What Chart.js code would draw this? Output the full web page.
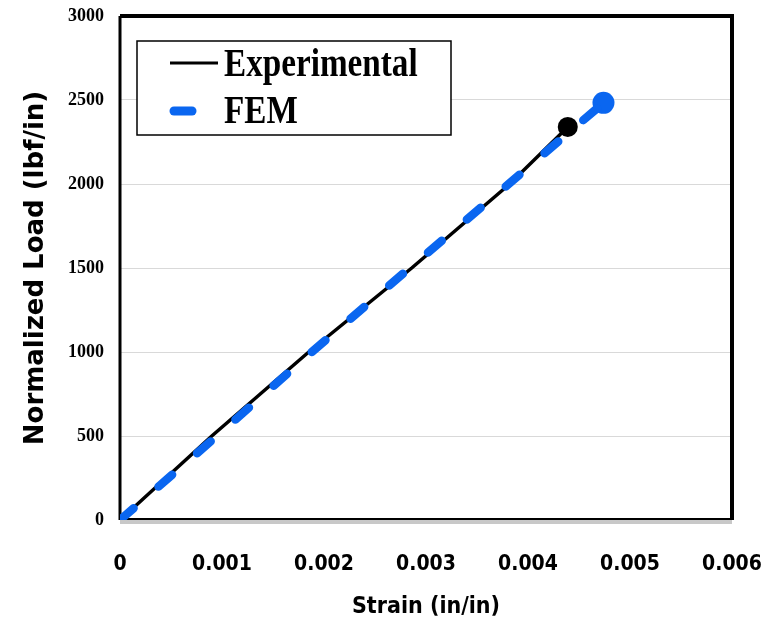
<!DOCTYPE html>
<html>
<head>
<meta charset="utf-8">
<script src="https://cdn.jsdelivr.net/npm/chart.js@4"></script>
<style>
  html, body { margin: 0; padding: 0; background: #fff; }
  #wrap { width: 776px; height: 621px; }
</style>
</head>
<body>
<div id="wrap"><canvas id="myChart" width="776" height="621"></canvas></div>
<script>
// chart data
const expStrain = [0, 0.0009, 0.00185, 0.00286, 0.00382, 0.00439];
const expLoad = [0, 500, 1000, 1500, 2000, 2340];
const femStrain = [0, 0.00095, 0.00188, 0.00284, 0.00381, 0.00474];
const femLoad = [0, 500, 1000, 1500, 2000, 2483];
const xTickLabels = ["0", "0.001", "0.002", "0.003", "0.004", "0.005", "0.006"];
const yTickLabels = ["0", "500", "1000", "1500", "2000", "2500", "3000"];
const seriesNames = ["Experimental", "FEM"];

const blue = "#0a66f0";

function toPoints(xs, ys) {
  return xs.map((x, i) => ({ x: x, y: ys[i] }));
}

// only the last point of each curve gets a marker
function endRadius(arr, r) {
  return arr.map((v, i) => (i === arr.length - 1 ? r : 0));
}

// frame around the plot area
const framePlugin = {
  id: "frame",
  beforeDatasetsDraw(chart) {
    let a = chart.chartArea;
    let ctx = chart.ctx;
    ctx.save();
    // gray shadow under bottom
    ctx.fillStyle = "#c8c8c8";
    ctx.fillRect(a.left, a.bottom, a.right - a.left, 4);
    ctx.strokeStyle = "#000";
    ctx.lineWidth = 4;
    ctx.beginPath();
    ctx.moveTo(a.left, a.top);
    ctx.lineTo(a.right, a.top);
    ctx.lineTo(a.right, a.bottom);
    ctx.stroke();
    ctx.lineWidth = 3;
    ctx.beginPath();
    ctx.moveTo(a.left, a.top);
    ctx.lineTo(a.left, a.bottom);
    ctx.stroke();
    ctx.lineWidth = 2;
    ctx.beginPath();
    ctx.moveTo(a.left, a.bottom - 1);
    ctx.lineTo(a.right, a.bottom - 1);
    ctx.stroke();
    ctx.restore();
  }
};

// boxed legend inside the plot
const legendPlugin = {
  id: "boxLegend",
  afterDraw(chart) {
    let ctx = chart.ctx;
    ctx.save();
    ctx.fillStyle = "#fff";
    ctx.fillRect(137, 41, 314, 94);
    ctx.strokeStyle = "#000";
    ctx.lineWidth = 1.5;
    ctx.strokeRect(137, 41, 314, 94);

    // sample lines
    ctx.lineCap = "butt";
    ctx.strokeStyle = "#000";
    ctx.lineWidth = 3;
    ctx.beginPath();
    ctx.moveTo(170, 63);
    ctx.lineTo(218, 63);
    ctx.stroke();
    ctx.lineCap = "round";
    ctx.strokeStyle = blue;
    ctx.lineWidth = 9;
    ctx.beginPath();
    ctx.moveTo(174, 111);
    ctx.lineTo(192, 111);
    ctx.stroke();

    // labels, squeezed a bit like the original
    ctx.fillStyle = "#000";
    ctx.font = "bold 40px 'Liberation Serif', 'DejaVu Serif', serif";
    ctx.textBaseline = "alphabetic";
    ctx.textAlign = "left";
    ctx.translate(224, 0);
    ctx.scale(0.83, 1);
    ctx.fillText(seriesNames[0], 0, 76);
    ctx.fillText(seriesNames[1], 0, 123);
    ctx.restore();
  }
};

let ctx = document.getElementById("myChart").getContext("2d");

let myChart = new Chart(ctx, {
  type: "line",
  data: {
    datasets: [
      {
        label: seriesNames[0] + " end",
        data: toPoints(expStrain, expLoad),
        showLine: false,
        pointRadius: endRadius(expStrain, 10),
        pointBackgroundColor: "#000",
        pointBorderColor: "#000",
        pointBorderWidth: 0,
        order: 0
      },
      {
        label: seriesNames[1],
        data: toPoints(femStrain, femLoad),
        borderColor: blue,
        borderWidth: 8.5,
        borderDash: [18, 33],
        borderCapStyle: "round",
        pointRadius: 0,
        tension: 0,
        order: 1
      },
      {
        label: seriesNames[1] + " end",
        data: toPoints(femStrain, femLoad),
        showLine: false,
        pointRadius: endRadius(femStrain, 11),
        pointBackgroundColor: blue,
        pointBorderColor: blue,
        pointBorderWidth: 0,
        order: 2
      },
      {
        label: seriesNames[0],
        data: toPoints(expStrain, expLoad),
        borderColor: "#000",
        borderWidth: 3.5,
        pointRadius: 0,
        tension: 0,
        order: 3
      }
    ]
  },
  options: {
    responsive: false,
    animation: false,
    layout: { padding: { top: 16, right: 44, left: 0, bottom: 0 } },
    plugins: {
      legend: { display: false },
      tooltip: { enabled: false }
    },
    scales: {
      x: {
        type: "linear",
        min: 0,
        max: 0.006,
        afterFit(scale) {
          scale.height = 101;
          scale.paddingLeft = 0;
          scale.paddingRight = 0;
        },
        ticks: {
          stepSize: 0.001,
          padding: 32,
          maxRotation: 0,
          color: "#000",
          font: { family: "'DejaVu Sans Condensed', 'DejaVu Sans', sans-serif", size: 21, weight: "bold" },
          callback: (v, i) => xTickLabels[i]
        },
        grid: { display: false, drawTicks: false },
        border: { display: false },
        title: {
          display: true,
          text: "Strain (in/in)",
          color: "#000",
          padding: { top: 2, bottom: 0 },
          font: { family: "'DejaVu Sans Condensed', 'DejaVu Sans', sans-serif", size: 23, weight: "bold" }
        }
      },
      y: {
        type: "linear",
        min: 0,
        max: 3000,
        afterFit(scale) {
          scale.width = 120;
          scale.paddingTop = 0;
          scale.paddingBottom = 0;
        },
        ticks: {
          stepSize: 500,
          padding: 16,
          color: "#000",
          font: { family: "'Liberation Serif', 'DejaVu Serif', serif", size: 18, weight: "bold" },
          callback: (v, i) => yTickLabels[i]
        },
        grid: { color: "#d9d9d9", lineWidth: 1, drawTicks: false },
        border: { display: false },
        title: {
          display: true,
          text: "Normalized Load (lbf/in)",
          color: "#000",
          padding: { top: 21, bottom: 0 },
          font: { family: "'DejaVu Sans', sans-serif", size: 26, weight: "bold" }
        }
      }
    }
  },
  plugins: [framePlugin, legendPlugin]
});
</script>
</body>
</html>
